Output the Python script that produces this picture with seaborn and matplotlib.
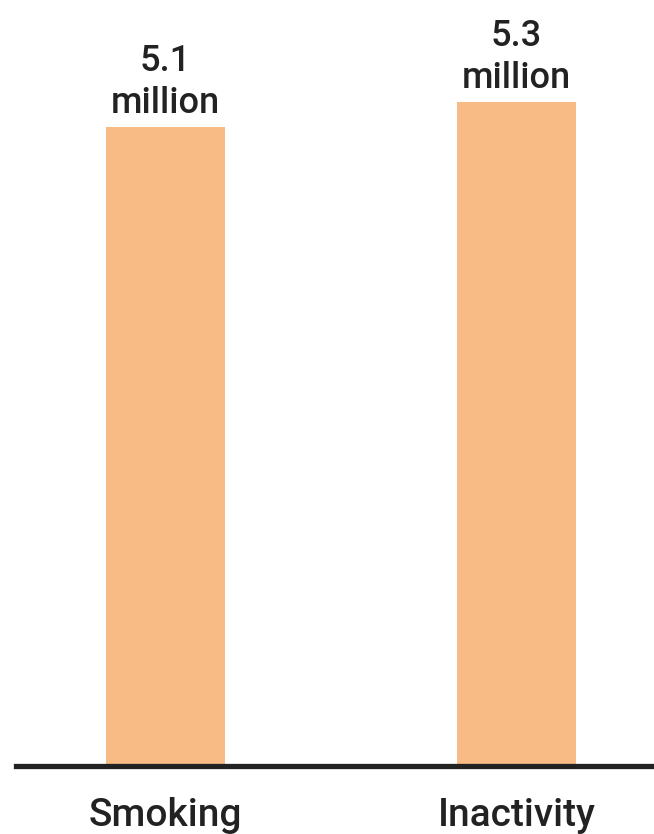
import pandas as pd
import matplotlib.pyplot as plt
import seaborn as sns

# Données
categories = ['Smoking', 'Inactivity']
deaths_millions = [5.1, 5.3]
value_labels = ['5.1\nmillion', '5.3\nmillion']

df = pd.DataFrame({'cause': categories, 'deaths': deaths_millions})

sns.set_style('white')
plt.rcParams['font.family'] = ['Roboto', 'DejaVu Sans']

fig = plt.figure(figsize=(6.54, 8.34), dpi=100)
ax = fig.add_axes([16 / 654, 68 / 834, 1 - 16 / 654, 1 - 68 / 834])

sns.barplot(data=df, x='cause', y='deaths', color='#F8BB85', saturation=1,
            width=0.34, linewidth=0, ax=ax)

# Étiquettes de valeur au-dessus des barres
for i, (v, lab) in enumerate(zip(deaths_millions, value_labels)):
    ax.annotate(lab, xy=(i, v), xytext=(0, 4), textcoords='offset points',
                ha='center', va='bottom', fontsize=26, color='#222222',
                fontweight='medium', linespacing=1.25)

ax.set_xlim(-0.426, 1.392)
ax.set_ylim(0, 6.11)
ax.set_xlabel('')
ax.set_ylabel('')
ax.set_yticks([])
ax.tick_params(axis='x', length=0, pad=22, labelsize=28, labelcolor='#222222')
for t in ax.get_xticklabels():
    t.set_fontweight('medium')

for s in ['top', 'right', 'left']:
    ax.spines[s].set_visible(False)
ax.spines['bottom'].set_linewidth(3.8)
ax.spines['bottom'].set_color('#222222')

fig.savefig('out.png', dpi=100)
